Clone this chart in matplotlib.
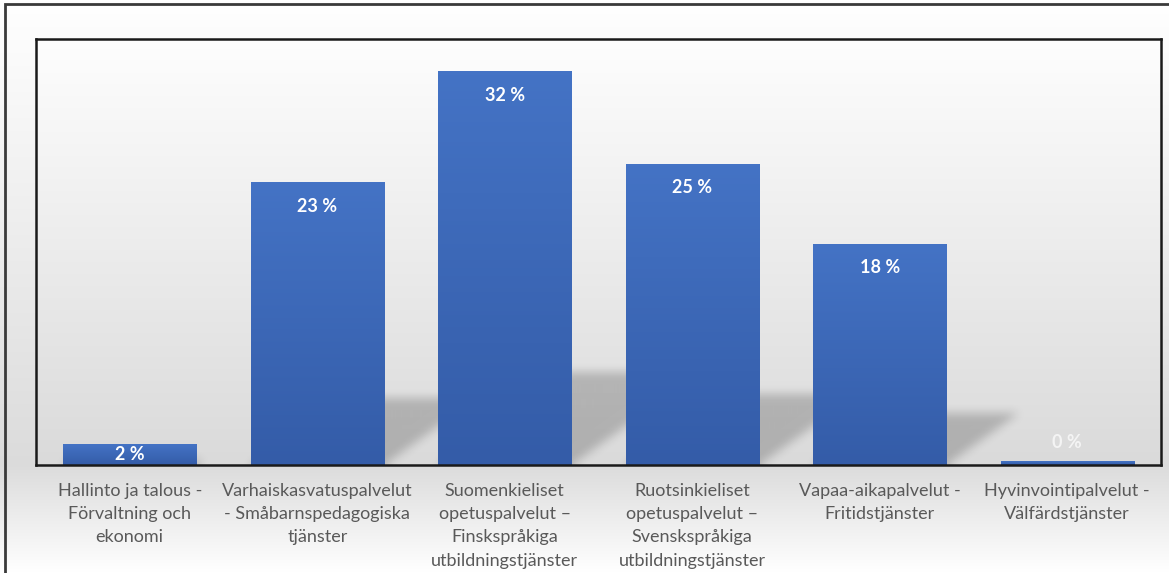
import numpy as np
import matplotlib
matplotlib.use("Agg")
import matplotlib.pyplot as plt
from matplotlib.patches import Rectangle

# ---- data ----
categories = [
    "Hallinto ja talous -\nFörvaltning och\nekonomi",
    "Varhaiskasvatuspalvelut\n- Småbarnspedagogiska\ntjänster",
    "Suomenkieliset\nopetuspalvelut –\nFinskspråkiga\nutbildningstjänster",
    "Ruotsinkieliset\nopetuspalvelut –\nSvenskspråkiga\nutbildningstjänster",
    "Vapaa-aikapalvelut -\nFritidstjänster",
    "Hyvinvointipalvelut -\nVälfärdstjänster",
]
values = [1.7, 23.0, 32.0, 24.5, 18.0, 0.3]

W, H = 1169, 573
DPI = 100
FONT = "Lato"

fig = plt.figure(figsize=(W / DPI, H / DPI), dpi=DPI)

# ---- figure background gradient ----
bg = fig.add_axes([0, 0, 1, 1], zorder=-10)
bg.set_axis_off()
yy = np.linspace(0, 1, H)  # 0 = top
base_y = 465 / H
g = np.where(yy <= base_y, 1.0 - 0.14 * (yy / base_y),
             0.86 + 0.14 * ((yy - base_y) / (1 - base_y)))
img = np.repeat(g[:, None], 4, axis=1)
bg.imshow(np.dstack([img, img, img]), aspect="auto", extent=[0, 1, 0, 1], origin="upper")
bg.set_xlim(0, 1); bg.set_ylim(0, 1)
# outer border (right/bottom beyond visible area)
bg.add_patch(Rectangle((5 / W, -0.1), 1.2, 1 - 4 / H + 0.1, fill=False,
                       edgecolor="#3a3a3a", linewidth=2.0, transform=bg.transAxes))

# ---- main axes ----
L, T, R, B = 36, 39, 1161, 465
ax = fig.add_axes([L / W, (H - B) / H, (R - L) / W, (B - T) / H])
ax.set_facecolor("none")
ymax = (B - T) / 12.3
ax.set_xlim(-0.5, len(values) - 0.5)
ax.set_ylim(0, ymax)

# plot area gradient
pg = np.linspace(0.995, 0.855, 200)[:, None]
ax.imshow(np.dstack([pg, pg, pg]), aspect="auto", extent=[-0.5, len(values) - 0.5, 0, ymax],
          origin="upper", zorder=0)

x = np.arange(len(values))
bw = 0.71

# ---- soft shadows rendered as image ----
pw, ph = R - L, B - T
sx = pw / len(values)          # px per category
sy = ph / ymax                 # px per unit
gx, gy = np.meshgrid(np.arange(pw) + 0.5, np.arange(ph) + 0.5)  # gy from top
up = ph - gy                   # px above baseline
mask = np.zeros((ph, pw))
for xi, v in zip(x, values):
    h_px = 2.9 * v
    if h_px < 1:
        continue
    ratio = 1.4
    x0 = (xi - bw / 2 + 0.5) * sx
    x1 = (xi + bw / 2 + 0.5) * sx
    inside = (up >= 0) & (up <= h_px) & (gx >= x0 + up * ratio) & (gx <= x1 + up * ratio)
    mask[inside] = 1.0


def box_blur(a, r):
    k = 2 * r + 1
    p = np.pad(a, ((0, 0), (r + 1, r)), mode="edge")
    c = np.cumsum(p, axis=1)
    a = (c[:, k:] - c[:, :-k]) / k
    p = np.pad(a, ((r + 1, r), (0, 0)), mode="edge")
    c = np.cumsum(p, axis=0)
    return (c[k:, :] - c[:-k, :]) / k


for _ in range(3):
    mask = box_blur(mask, 4)
shadow = np.zeros((ph, pw, 4))
shadow[..., 3] = 0.2 * mask
ax.imshow(shadow, aspect="auto", extent=[-0.5, len(values) - 0.5, 0, ymax],
          origin="upper", zorder=1)

# ---- bars with vertical gradient ----
bars = ax.bar(x, values, width=bw, color="#4070c0", edgecolor="#6f93d3",
              linewidth=0.6, zorder=2)
top_c = np.array([68, 115, 197]) / 255
bot_c = np.array([52, 92, 168]) / 255
t = np.linspace(0, 1, 100)[:, None]
grad = top_c[None, None, :] * (1 - t[..., None]) + bot_c[None, None, :] * t[..., None]
for b in bars:
    if b.get_height() <= 0:
        continue
    im = ax.imshow(grad, aspect="auto", origin="upper", zorder=3,
                   extent=[b.get_x(), b.get_x() + b.get_width(), 0, b.get_height()])
    im.set_clip_path(b)

# ---- value labels ----
LBL_FS = 13
for xi, v in zip(x, values):
    lbl = f"{int(v + 0.5)} %"
    if v * sy > 48:
        ax.annotate(lbl, (xi, v), xytext=(0, -24 * 72 / DPI), textcoords="offset points",
                    ha="center", va="center", color="white", fontweight="bold",
                    fontsize=LBL_FS, family=FONT, zorder=5)
    elif v * sy > 12:
        ax.text(xi, v / 2, lbl, ha="center", va="center", color="white",
                fontweight="bold", fontsize=LBL_FS, family=FONT, zorder=5)
    else:
        ax.annotate(lbl, (xi, 0), xytext=(0, 22 * 72 / DPI), textcoords="offset points",
                    ha="center", va="center", color="#f4f4f4", fontweight="bold",
                    fontsize=LBL_FS, family=FONT, zorder=5)

# ---- axes styling ----
ax.set_yticks([])
ax.set_xticks(x)
ax.set_xticklabels(categories, fontsize=13, color="#595959", family=FONT,
                   linespacing=1.55)
ax.tick_params(axis="x", length=0, pad=13)
for s in ax.spines.values():
    s.set_color("#1a1a1a")
    s.set_linewidth(1.8)
    s.set_zorder(6)

fig.savefig("out.png", dpi=DPI)
